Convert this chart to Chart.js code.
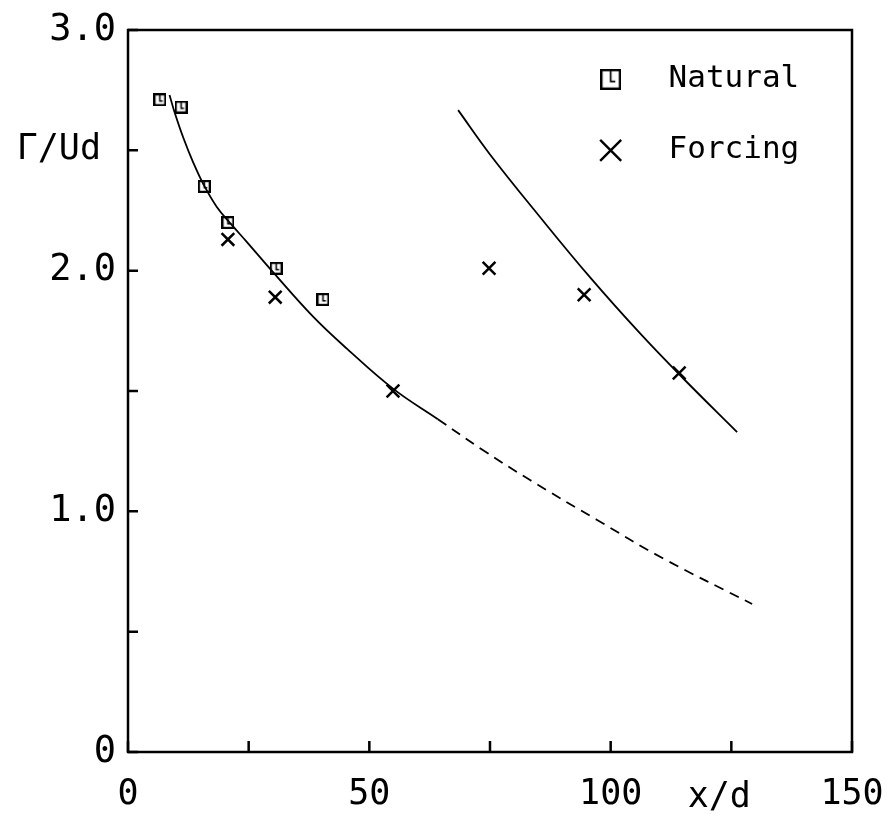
<!DOCTYPE html>
<html>
<head>
<meta charset="utf-8">
<script src="https://cdn.jsdelivr.net/npm/chart.js@4.4.1/dist/chart.umd.min.js"></script>
<style>
  html, body { margin: 0; padding: 0; background: #fff; }
  #wrap { width: 887px; height: 818px; }
</style>
</head>
<body>
<div id="wrap"><canvas id="plot"></canvas></div>
<script>
// Γ/Ud versus x/d -- natural vs forcing
var naturalX = [6.6, 11.0, 15.8, 20.7, 30.7, 40.4];
var naturalY = [2.71, 2.68, 2.35, 2.20, 2.01, 1.88];

var forcingX = [20.7, 30.5, 54.9, 74.8, 94.5, 114.2];
var forcingY = [2.13, 1.89, 1.50, 2.01, 1.90, 1.575];

// fitted curve, natural (solid part)
var fitNatX = [8.6, 9.7, 11.5, 13.5, 15.6, 18.4, 21.5, 24.6, 30.0, 38.3, 45.4, 54.9, 64.2];
var fitNatY = [2.73, 2.655, 2.55, 2.45, 2.36, 2.265, 2.19, 2.12, 1.995, 1.81, 1.675, 1.51, 1.383];

// extrapolated part (dashed)
var extNatX = [64.2, 73.5, 83.3, 97.2, 110.8, 129.3];
var extNatY = [1.383, 1.255, 1.13, 0.964, 0.805, 0.615];

// fitted curve, forcing
var fitForX = [68.4, 75.0, 85.4, 95.7, 106.1, 115.0, 126.2];
var fitForY = [2.667, 2.483, 2.222, 1.973, 1.739, 1.553, 1.329];

var xTicks = [0, 25, 50, 75, 100, 125, 150];
var xTickLabels = ['0', '', '50', '', '100', '', '150'];
var yTicks = [0, 0.5, 1.0, 1.5, 2.0, 2.5, 3.0];
var yTickLabels = ['0', '', '1.0', '', '2.0', '', '3.0'];

var FONT = '"DejaVu Sans Mono", monospace';

function pts(xs, ys) {
    return xs.map(function (x, i) { return { x: x, y: ys[i] }; });
}

function squareGlyph(size, lw) {
    var c = document.createElement('canvas');
    c.width = size; c.height = size;
    var g = c.getContext('2d');
    var h = lw / 2;
    g.fillStyle = '#fff';
    g.fillRect(h, h, size - lw, size - lw);
    g.strokeStyle = '#000';
    g.lineWidth = lw;
    g.strokeRect(h, h, size - lw, size - lw);
    g.lineWidth = Math.max(1.5, lw * 0.7);
    g.beginPath();
    g.moveTo(size * 0.5, h);
    g.lineTo(size * 0.5, size * 0.6);
    g.lineTo(size * 0.72, size * 0.6);
    g.stroke();
    return c;
}

function drawX(ctx, x, y, r, lw) {
    ctx.save();
    ctx.strokeStyle = '#000';
    ctx.lineWidth = lw;
    ctx.beginPath();
    ctx.moveTo(x - r, y - r); ctx.lineTo(x + r, y + r);
    ctx.moveTo(x - r, y + r); ctx.lineTo(x + r, y - r);
    ctx.stroke();
    ctx.restore();
}

var dataGlyph = squareGlyph(13, 2.2);
var legendGlyph = squareGlyph(21, 2.4);

// frame, inward ticks, axis titles, legend
var decor = {
    id: 'decor',
    afterDraw: function (chart) {
        var ctx = chart.ctx, a = chart.chartArea;
        var xs = chart.scales.x, ys = chart.scales.y;
        ctx.save();
        ctx.strokeStyle = '#000';
        ctx.lineWidth = 2.5;
        ctx.strokeRect(a.left, a.top, a.right - a.left, a.bottom - a.top);

        ctx.beginPath();
        xTicks.forEach(function (v) {
            var px = xs.getPixelForValue(v);
            ctx.moveTo(px, a.bottom); ctx.lineTo(px, a.bottom - 11);
        });
        yTicks.forEach(function (v) {
            var py = ys.getPixelForValue(v);
            ctx.moveTo(a.left, py); ctx.lineTo(a.left + 10, py);
        });
        ctx.stroke();

        ctx.fillStyle = '#000';
        ctx.font = '35px ' + FONT;
        ctx.textBaseline = 'middle';
        ctx.textAlign = 'right';
        ctx.fillText('\u0393/Ud', a.left - 27, ys.getPixelForValue(2.5));
        ctx.textAlign = 'center';
        ctx.fillText('x/d', xs.getPixelForValue(122.5), a.bottom + 46);

        // legend
        var lx = xs.getPixelForValue(100), tx = xs.getPixelForValue(112);
        var y1 = ys.getPixelForValue(2.795), y2 = ys.getPixelForValue(2.5);
        ctx.drawImage(legendGlyph, lx - 10.5, y1 - 10.5);
        drawX(ctx, lx, y2, 10.5, 2.4);
        ctx.font = '31px ' + FONT;
        ctx.textAlign = 'left';
        ctx.fillText('Natural', tx, y1);
        ctx.fillText('Forcing', tx, y2);
        ctx.restore();
    }
};

new Chart(document.getElementById('plot'), {
    type: 'scatter',
    data: {
        datasets: [
            {
                label: 'fit natural',
                data: pts(fitNatX, fitNatY),
                showLine: true,
                borderColor: '#000',
                borderWidth: 1.8,
                pointRadius: 0,
                tension: 0.4
            },
            {
                label: 'extrapolation',
                data: pts(extNatX, extNatY),
                showLine: true,
                borderColor: '#000',
                borderWidth: 1.8,
                borderDash: [10, 7],
                pointRadius: 0,
                tension: 0.4
            },
            {
                label: 'fit forcing',
                data: pts(fitForX, fitForY),
                showLine: true,
                borderColor: '#000',
                borderWidth: 1.8,
                pointRadius: 0,
                tension: 0.4
            },
            {
                label: 'Natural',
                data: pts(naturalX, naturalY),
                pointStyle: dataGlyph,
                pointRadius: 7
            },
            {
                label: 'Forcing',
                data: pts(forcingX, forcingY),
                pointStyle: 'crossRot',
                pointRadius: 9,
                borderColor: '#000',
                borderWidth: 2.5
            }
        ]
    },
    options: {
        responsive: true,
        maintainAspectRatio: false,
        animation: false,
        layout: { padding: { top: 30, right: 35, left: 0, bottom: 0 } },
        plugins: {
            legend: { display: false },
            tooltip: { enabled: false }
        },
        scales: {
            x: {
                type: 'linear',
                min: 0, max: 150,
                border: { display: false },
                grid: { display: false, drawTicks: false },
                afterFit: function (s) {
                    s.height = 66;
                    s.paddingLeft = 0; s.paddingRight = 0;
                },
                afterBuildTicks: function (s) {
                    s.ticks = xTicks.map(function (v) { return { value: v }; });
                },
                ticks: {
                    padding: 22,
                    color: '#000',
                    maxRotation: 0,
                    autoSkip: false,
                    font: { family: FONT, size: 35 },
                    callback: function (v) { return xTickLabels[xTicks.indexOf(v)]; }
                }
            },
            y: {
                type: 'linear',
                min: 0, max: 3,
                border: { display: false },
                grid: { display: false, drawTicks: false },
                afterFit: function (s) {
                    s.width = 128;
                    s.paddingTop = 0; s.paddingBottom = 0;
                },
                afterBuildTicks: function (s) {
                    s.ticks = yTicks.map(function (v) { return { value: v }; });
                },
                ticks: {
                    padding: 12,
                    color: '#000',
                    autoSkip: false,
                    font: { family: FONT, size: 37 },
                    callback: function (v) { return yTickLabels[yTicks.indexOf(v)]; }
                }
            }
        }
    },
    plugins: [decor]
});
</script>
</body>
</html>
